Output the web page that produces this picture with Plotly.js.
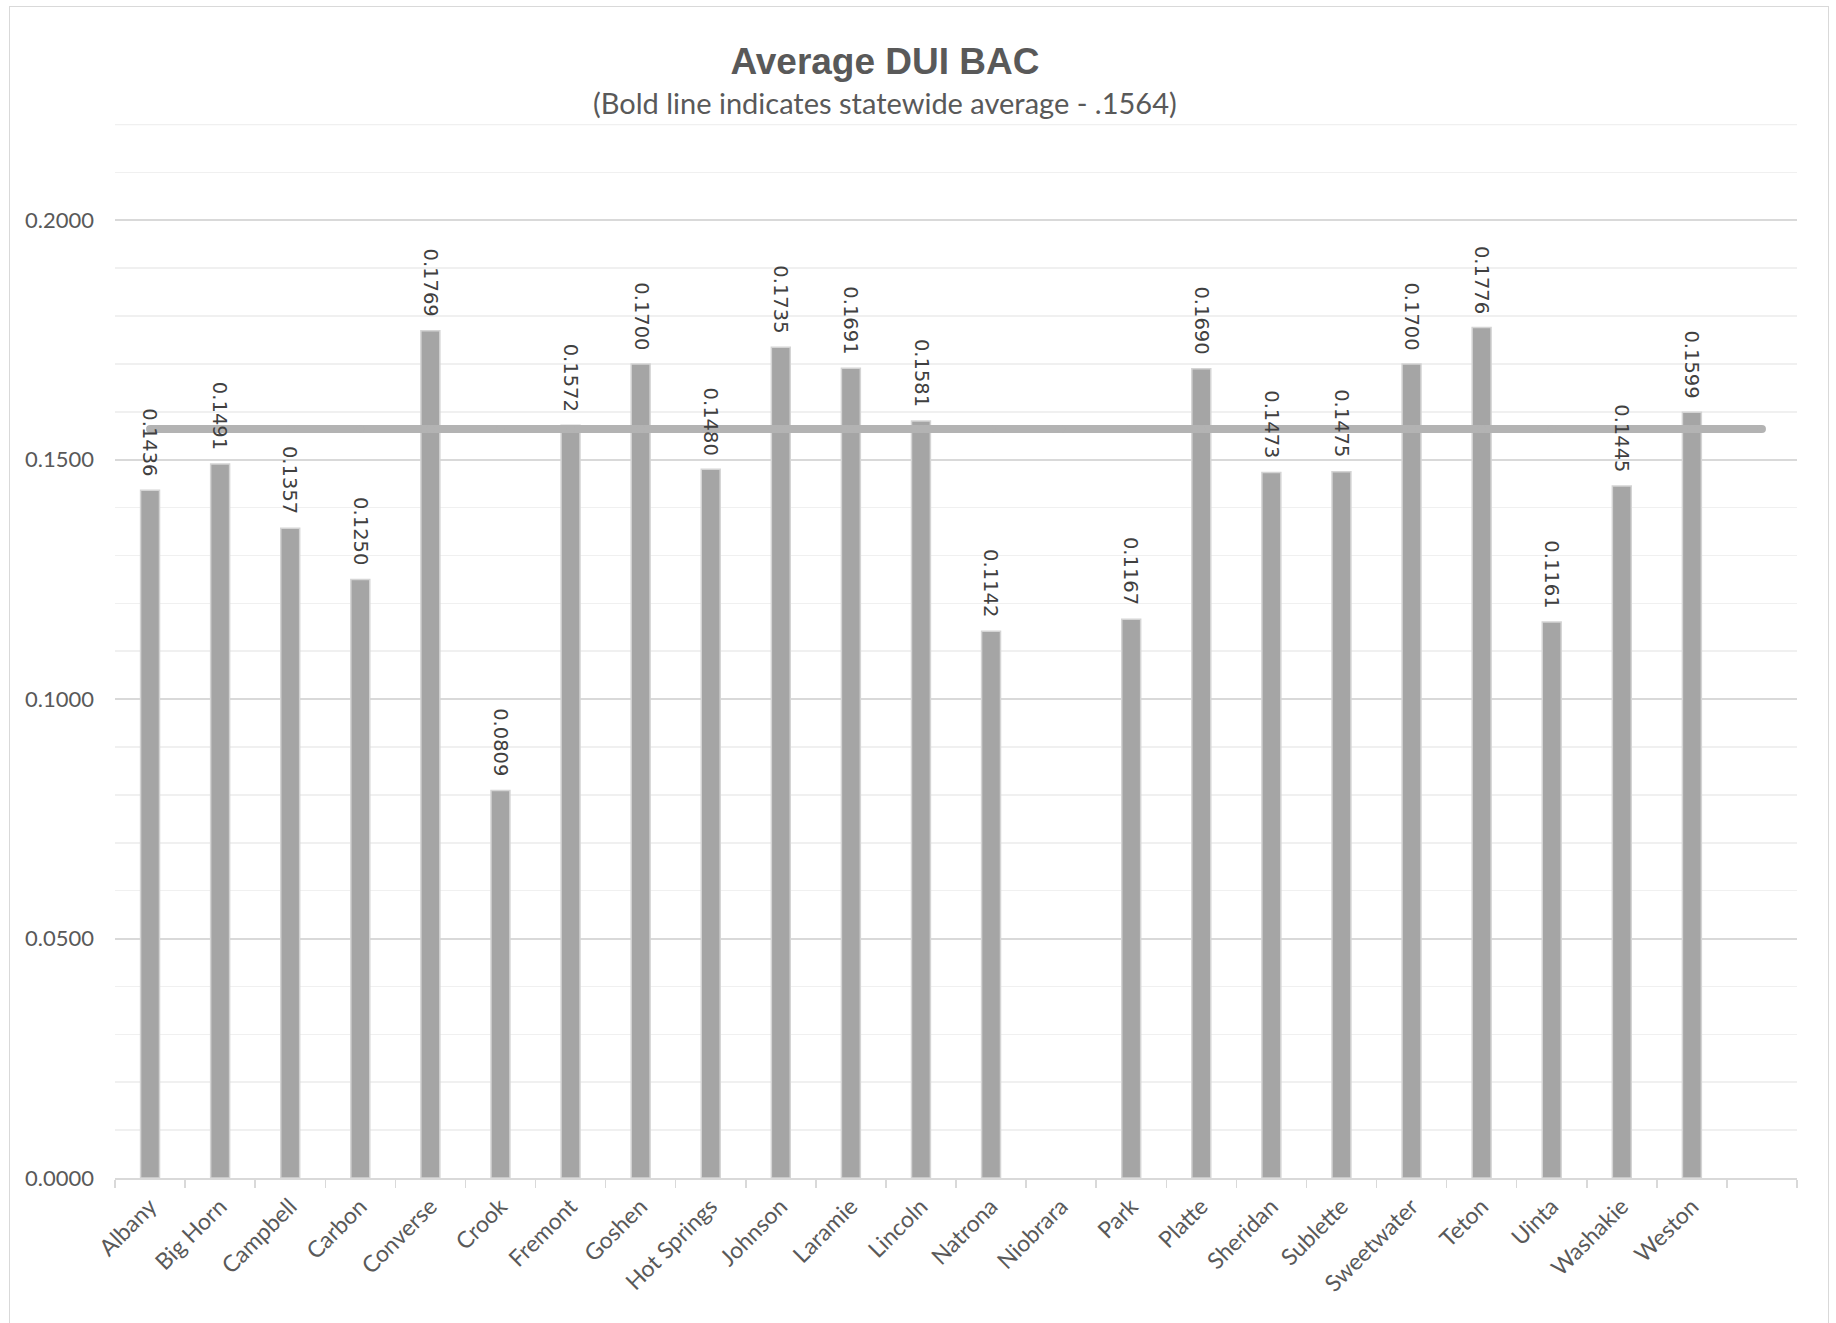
<!DOCTYPE html>
<html>
<head>
<meta charset="utf-8">
<script src="https://cdn.plot.ly/plotly-3.0.1.min.js"></script>
<style>
  html, body { margin: 0; padding: 0; background: #ffffff; }
  #frame { position: absolute; left: 9px; top: 6px; width: 1820px; height: 1330px; border: 1.5px solid #d9d9d9; box-sizing: border-box; }
  #chart { position: absolute; left: 0; top: 0; width: 1836px; height: 1323px; }
</style>
</head>
<body>
<div id="frame"></div>
<div id="chart"></div>
<script>
// ---- data ----
const counties = ["Albany", "Big Horn", "Campbell", "Carbon", "Converse", "Crook", "Fremont", "Goshen",
  "Hot Springs", "Johnson", "Laramie", "Lincoln", "Natrona", "Niobrara", "Park", "Platte", "Sheridan",
  "Sublette", "Sweetwater", "Teton", "Uinta", "Washakie", "Weston", " "];
const avgBAC = [0.1436, 0.1491, 0.1357, 0.1250, 0.1769, 0.0809, 0.1572, 0.1700,
  0.1480, 0.1735, 0.1691, 0.1581, 0.1142, null, 0.1167, 0.1690, 0.1473,
  0.1475, 0.1700, 0.1776, 0.1161, 0.1445, 0.1599, null];
const statewideAvg = 0.1564;
const statewideLine = counties.map(() => statewideAvg);
const titleText = "Average DUI BAC";
const subtitleText = "(Bold line indicates statewide average - .1564)";
const yMax = 0.22;

// ---- traces ----
const bars = {
  type: "bar",
  x: counties,
  y: avgBAC,
  width: 0.27,
  marker: { color: "#a5a5a5", line: { color: "#d4d4d4", width: 1.5 } },
  hoverinfo: "x+y",
  showlegend: false
};
const avgLine = {
  type: "scatter",
  mode: "lines+markers",
  x: counties,
  y: statewideLine,
  line: { color: "#b3b3b3", width: 8 },
  marker: { color: "#b3b3b3", size: 8 },
  hoverinfo: "y",
  showlegend: false
};

// value labels, rotated, above each bar
const labels = [];
counties.forEach((c, i) => {
  if (avgBAC[i] === null) return;
  labels.push({
    x: c, y: avgBAC[i], xref: "x", yref: "y",
    text: avgBAC[i].toFixed(4),
    showarrow: false, textangle: 90,
    xanchor: "center", yanchor: "bottom", yshift: 12,
    font: { family: "DejaVu Sans", size: 19.5, color: "#404040" }
  });
});
labels.push({
  xref: "paper", yref: "paper", x: 0.458, y: 1.02, xanchor: "center", yanchor: "middle",
  text: subtitleText, showarrow: false,
  font: { family: "Lato", size: 29, color: "#595959" }
});

const layout = {
  width: 1836, height: 1323,
  paper_bgcolor: "rgba(0,0,0,0)",
  plot_bgcolor: "#ffffff",
  margin: { l: 115, r: 39, t: 124, b: 145 },
  title: {
    text: "<b>" + titleText + "</b>",
    x: 0.482, xanchor: "center", xref: "container",
    y: 0.954, yanchor: "middle", yref: "container",
    font: { family: "Liberation Sans", size: 37, color: "#595959" }
  },
  xaxis: {
    type: "category",
    categoryorder: "array", categoryarray: counties,
    range: [-0.5, counties.length - 0.5],
    tickangle: -45,
    ticks: "outside", tickson: "boundaries", ticklen: 8, tickcolor: "#d9d9d9", tickwidth: 1.5,
    showline: true, linecolor: "#d9d9d9", linewidth: 2,
    showgrid: false,
    ticklabelstandoff: 4,
    tickfont: { family: "Lato", size: 23, color: "#595959" },
    fixedrange: true
  },
  yaxis: {
    range: [0, yMax + 0.0001],
    dtick: 0.05, tick0: 0,
    tickformat: ".4f",
    showgrid: true, gridcolor: "#d9d9d9", gridwidth: 2,
    minor: { dtick: 0.01, showgrid: true, gridcolor: "#f0f0f0", gridwidth: 1.5 },
    zeroline: false, showline: false,
    ticks: "", ticklabelstandoff: 20,
    tickfont: { family: "Lato", size: 22, color: "#595959" },
    fixedrange: true
  },
  shapes: [{
    type: "line", layer: "below", xref: "paper", yref: "y",
    x0: 0, x1: 1, y0: yMax, y1: yMax,
    line: { color: "#f0f0f0", width: 1.5 }
  }],
  annotations: labels,
  showlegend: false
};

Plotly.newPlot("chart", [bars, avgLine], layout, { displayModeBar: false, staticPlot: true });
</script>
</body>
</html>
